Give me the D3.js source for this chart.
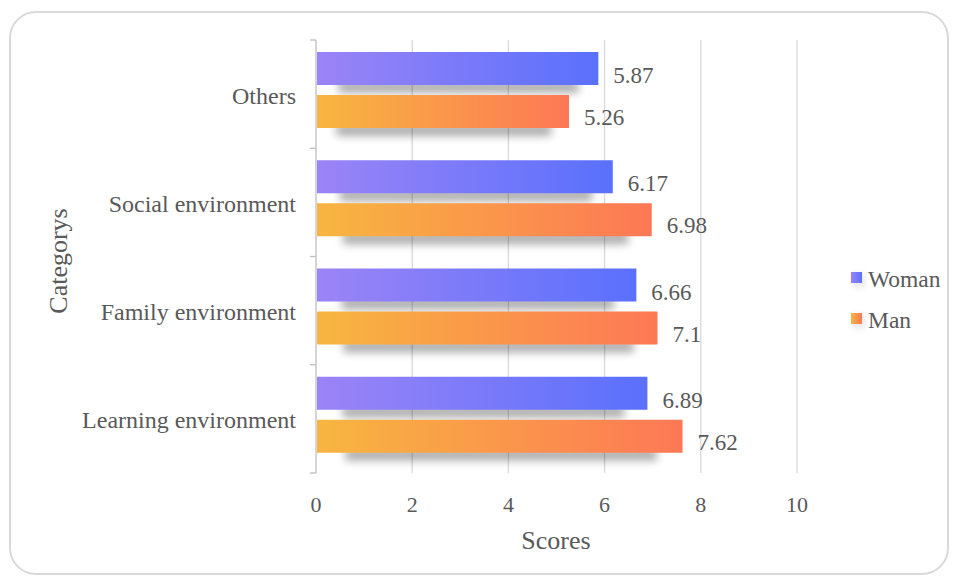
<!DOCTYPE html>
<html><head><meta charset="utf-8">
<script src="https://cdn.jsdelivr.net/npm/d3@7"></script>
<style>body{margin:0;background:#fff}svg{display:block}</style>
</head><body>
<svg id="c" width="957" height="581"></svg>
<script>
const categories = ["Others","Social environment","Family environment","Learning environment"];
const seriesNames = ["Woman","Man"];
const woman = [5.87,6.17,6.66,6.89];
const man = [5.26,6.98,7.1,7.62];
const xTicks = [0,2,4,6,8,10];

const svg = d3.select("#c");
const font = "Liberation Serif";
const txt = "#595959";

svg.append("rect").attr("x",10).attr("y",12).attr("width",938).attr("height",562)
  .attr("rx",26).attr("fill","#fff").attr("stroke","#d9d9d9").attr("stroke-width",2);

const defs = svg.append("defs");
const g1 = defs.append("linearGradient").attr("id","gW");
g1.append("stop").attr("offset","0").attr("stop-color","#9b84f6");
g1.append("stop").attr("offset","1").attr("stop-color","#5a70fc");
const g2 = defs.append("linearGradient").attr("id","gM");
g2.append("stop").attr("offset","0").attr("stop-color","#f7b640");
g2.append("stop").attr("offset","1").attr("stop-color","#fd7856");
const f = defs.append("filter").attr("id","sh").attr("x","-20%").attr("y","-100%").attr("width","140%").attr("height","300%");
f.append("feGaussianBlur").attr("stdDeviation",4);

const x = d3.scaleLinear().domain([0,10]).range([316,797]);
const y = d3.scaleBand().domain(categories).range([40,473]);

svg.append("g").selectAll("line").data(xTicks.slice(1)).join("line")
  .attr("x1",d=>x(d)).attr("x2",d=>x(d)).attr("y1",40).attr("y2",473)
  .attr("stroke","#d9d9d9").attr("stroke-width",1.3);

svg.append("line").attr("x1",316).attr("x2",316).attr("y1",40).attr("y2",473)
  .attr("stroke","#bfbfbf").attr("stroke-width",1.3);
const bounds = categories.map(c=>y(c)).concat([473]);
svg.append("g").selectAll("line").data(bounds).join("line")
  .attr("x1",310).attr("x2",316).attr("y1",d=>d).attr("y2",d=>d)
  .attr("stroke","#bfbfbf").attr("stroke-width",1.3);

const series = [
  {name:"Woman", vals:woman, off:12, grad:"url(#gW)", ly:14.5},
  {name:"Man", vals:man, off:55, grad:"url(#gM)", ly:13.5}
];
const bh = 33;
series.forEach(s=>{
  const g = svg.append("g");
  g.selectAll("rect.s").data(categories).join("rect").attr("class","s")
    .attr("x",(c,i)=>x(s.vals[i]*0.08))
    .attr("width",(c,i)=>x(s.vals[i]*0.93)-x(s.vals[i]*0.08))
    .attr("y",c=>y(c)+s.off+bh-4).attr("height",12)
    .attr("fill","#000").attr("opacity",0.32).attr("filter","url(#sh)");
});
series.forEach(s=>{
  const g = svg.append("g");
  g.selectAll("rect.b").data(categories).join("rect").attr("class","b")
    .attr("x",x(0)+1).attr("width",(c,i)=>x(s.vals[i])-x(0)-1)
    .attr("y",c=>y(c)+s.off).attr("height",bh).attr("fill",s.grad);
  g.selectAll("text").data(categories).join("text")
    .attr("x",(c,i)=>x(s.vals[i])+15).attr("y",c=>y(c)+s.off+bh/2+s.ly)
    .attr("font-family",font).attr("font-size",23).attr("fill",txt)
    .text((c,i)=>s.vals[i]);
});

svg.append("g").selectAll("text").data(categories).join("text")
  .attr("x",296).attr("y",c=>y(c)+y.bandwidth()/2+9.5)
  .attr("text-anchor","end").attr("font-family",font).attr("font-size",24).attr("fill",txt)
  .text(c=>c);

svg.append("g").selectAll("text").data(xTicks).join("text")
  .attr("x",d=>x(d)).attr("y",512).attr("text-anchor","middle")
  .attr("font-family",font).attr("font-size",22).attr("fill",txt).text(d=>d);

svg.append("text").attr("x",556).attr("y",549).attr("text-anchor","middle")
  .attr("font-family",font).attr("font-size",26).attr("fill",txt).text("Scores");
svg.append("text").attr("transform","translate(67,261) rotate(-90)").attr("text-anchor","middle")
  .attr("font-family",font).attr("font-size",26).attr("fill",txt).text("Categorys");

const leg = svg.append("g");
series.forEach((s,i)=>{
  const ly = 272 + i*41;
  leg.append("rect").attr("x",853).attr("y",ly+3).attr("width",11).attr("height",11)
    .attr("fill","#000").attr("opacity",0.15).attr("filter","url(#sh)");
  leg.append("rect").attr("x",851).attr("y",ly).attr("width",11).attr("height",11).attr("fill",s.grad);
  leg.append("text").attr("x",868).attr("y",ly+14.5).attr("font-family",font).attr("font-size",23.5)
    .attr("fill",txt).text(s.name);
});
</script>
</body></html>
